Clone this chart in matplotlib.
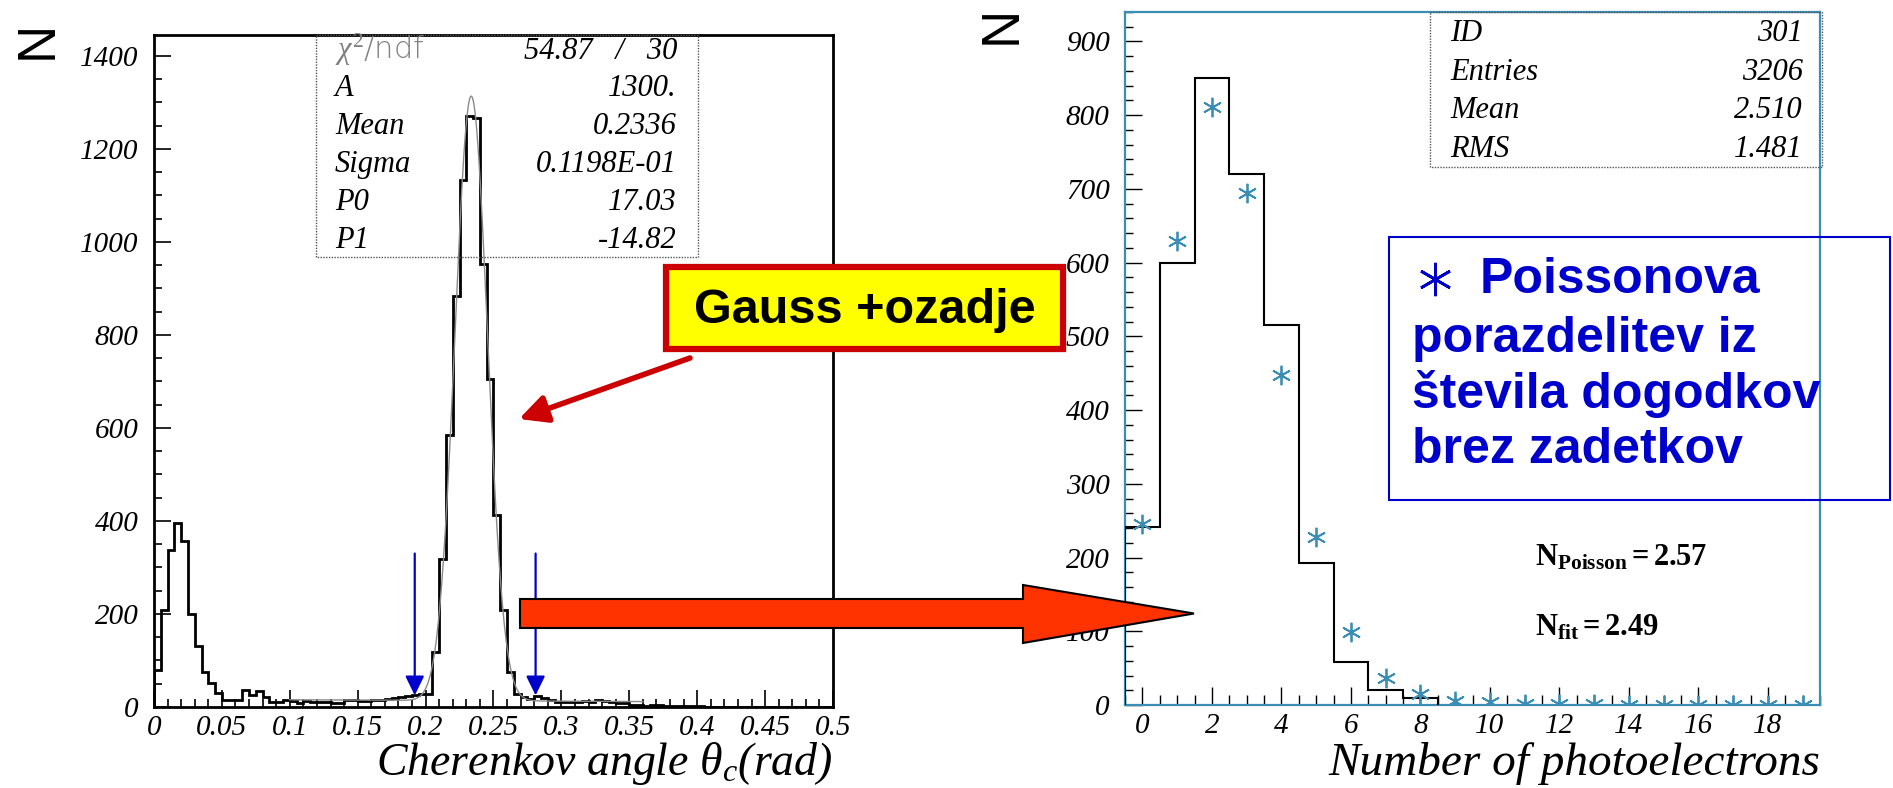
import numpy as np
import matplotlib
matplotlib.use("Agg")
import matplotlib.pyplot as plt
from matplotlib.patches import Rectangle, Polygon
from matplotlib.ticker import FixedLocator, MultipleLocator

# ---------------- data ----------------
theta_bin_width = 0.005
theta_counts = [79, 209, 338, 395, 356, 201, 131, 76, 52, 31,
                16, 16, 16, 36, 26, 35, 21, 10, 10, 15,
                13, 9, 13, 11, 11, 11, 9, 9, 14, 16,
                13, 13, 16, 16, 18, 20, 22, 23, 25, 29,
                27, 119, 318, 584, 883, 1133, 1270, 1267, 953, 706,
                412, 209, 75, 29, 21, 17, 24, 20, 16, 11,
                11, 11, 11, 13, 11, 15, 12, 10, 9, 8,
                5, 5, 3, 4, 4, 2, 2, 2, 2, 2,
                2, 1, 1, 1, 1, 1, 1, 1, 1, 1,
                1, 0, 0, 0, 0, 0, 0, 0, 0, 0]
fit_A, fit_mean, fit_sigma, fit_p0, fit_p1 = 1300.0, 0.2336, 0.1198e-01, 17.03, -14.82
fit_range = (0.10, 0.36)
cut_positions = [0.192, 0.281]
theta_xticks = [0, 0.05, 0.1, 0.15, 0.2, 0.25, 0.3, 0.35, 0.4, 0.45, 0.5]
theta_xticklabels = ["0", "0.05", "0.1", "0.15", "0.2", "0.25", "0.3", "0.35", "0.4", "0.45", "0.5"]
theta_yticks = [0, 200, 400, 600, 800, 1000, 1200, 1400]

npe_first_edge = -0.5
npe_counts = [242, 600, 850, 720, 516, 193, 59, 21, 9]
poisson_x = list(range(20))
poisson_values = [245, 630, 811, 694, 447, 228, 99, 37, 15, 6, 4, 2, 1, 1, 0, 0, 0, 0, 0, 0]
npe_xticks = [0, 2, 4, 6, 8, 10, 12, 14, 16, 18]
npe_yticks = [0, 100, 200, 300, 400, 500, 600, 700, 800, 900]

left_stats = [("A", "1300."), ("Mean", "0.2336"), ("Sigma", "0.1198E-01"),
              ("P0", "17.03"), ("P1", "-14.82")]
right_stats = [("ID", "301"), ("Entries", "3206"), ("Mean", "2.510"), ("RMS", "1.481")]

# ---------------- style ----------------
plt.rcParams["font.family"] = ["Liberation Serif", "DejaVu Serif"]
plt.rcParams["font.style"] = "italic"
plt.rcParams["mathtext.fontset"] = "custom"
plt.rcParams["mathtext.rm"] = "Liberation Serif:roman"
plt.rcParams["mathtext.it"] = "Liberation Serif:italic"
plt.rcParams["mathtext.bf"] = "Liberation Serif:bold:roman"

W, H = 1893, 788
fig = plt.figure(figsize=(W / 100, H / 100), dpi=100)


def rect(x0, y0, x1, y1):
    return [x0 / W, 1 - y1 / H, (x1 - x0) / W, (y1 - y0) / H]


TEAL = "#3a8db5"
BLUE = "#0000cc"
TICK_FS = 21

# ---------------- left panel ----------------
axL = fig.add_axes(rect(154, 35, 833, 707))
edges = np.arange(len(theta_counts) + 1) * theta_bin_width
axL.stairs(theta_counts, edges, color="black", lw=2.0, zorder=3)
xf = np.linspace(fit_range[0], fit_range[1], 600)
yf = fit_A * np.exp(-0.5 * ((xf - fit_mean) / fit_sigma) ** 2) + fit_p0 + fit_p1 * xf
axL.plot(xf, yf, color="#8a8a8a", lw=1.0, zorder=4)
axL.set_xlim(0, 0.5)
axL.set_ylim(0, 1445)
axL.xaxis.set_major_locator(FixedLocator(theta_xticks))
axL.set_xticklabels(theta_xticklabels)
axL.xaxis.set_minor_locator(MultipleLocator(0.01))
axL.yaxis.set_major_locator(FixedLocator(theta_yticks))
axL.yaxis.set_minor_locator(MultipleLocator(50))
axL.tick_params(which="both", direction="in", top=False, right=False, labelsize=TICK_FS, width=1.2)
axL.tick_params(axis="y", which="major", length=12, pad=11)
axL.tick_params(axis="y", which="minor", length=6)
axL.tick_params(axis="x", which="major", length=12, pad=6)
axL.tick_params(axis="x", which="minor", length=6)
for s in axL.spines.values():
    s.set_linewidth(2.0)
for xc in cut_positions:
    axL.annotate("", xy=(xc, 25), xytext=(xc, 330),
                 arrowprops=dict(arrowstyle="-|>,head_length=0.45,head_width=0.22",
                                 color=BLUE, lw=1.6, mutation_scale=26,
                                 shrinkA=0, shrinkB=0), zorder=6)

# ---------------- right panel ----------------
axR = fig.add_axes(rect(1125, 12, 1820, 705))
npe_edges = npe_first_edge + np.arange(len(npe_counts) + 1)
axR.stairs(npe_counts, npe_edges, color="black", lw=1.5, zorder=3)
axR.plot(poisson_x, poisson_values, linestyle="none", marker=(6, 2, 0),
         markersize=14, markeredgewidth=1.3, color=TEAL, zorder=4)
axR.set_xlim(-0.5, 19.5)
axR.set_ylim(0, 940)
axR.xaxis.set_major_locator(FixedLocator(npe_xticks))
axR.xaxis.set_minor_locator(MultipleLocator(0.5))
axR.yaxis.set_major_locator(FixedLocator(npe_yticks))
axR.yaxis.set_minor_locator(MultipleLocator(20))
axR.tick_params(which="both", direction="in", top=False, right=False, labelsize=TICK_FS, width=1.0)
axR.tick_params(axis="y", which="major", length=12, pad=11)
axR.tick_params(axis="y", which="minor", length=6)
axR.tick_params(axis="x", which="major", length=13, pad=6)
axR.tick_params(axis="x", which="minor", length=7)
for s in axR.spines.values():
    s.set_linewidth(1.6)
    s.set_color(TEAL)

# axis labels
fig.text(833 / W, 1 - 775 / H, r"Cherenkov angle θ$_{c}$(rad)", ha="right", va="baseline",
         fontsize=33, style="italic")
fig.text(1820 / W, 1 - 775 / H, "Number of photoelectrons", ha="right", va="baseline",
         fontsize=34, style="italic")
fig.text(38 / W, 1 - 40 / H, "N", rotation=90, ha="center", va="center",
         fontsize=38, family="Liberation Sans", style="normal")
fig.text(1002 / W, 1 - 25 / H, "N", rotation=90, ha="center", va="center",
         fontsize=38, family="Liberation Sans", style="normal")

# ---------------- overlay (annotations in pixel space) ----------------
ov = fig.add_axes([0, 0, 1, 1], facecolor="none")
ov.set_xlim(0, W)
ov.set_ylim(H, 0)
ov.axis("off")

STAT_FS = 22
# left stats box
ov.add_patch(Rectangle((316, 35), 382, 222, fill=False, ec="#555555", lw=1.0, ls=(0, (1, 1))))
ov.text(335, 59, r"$\chi^2$/ndf", fontsize=STAT_FS, color="#808080", family="DejaVu Sans",
        style="normal", weight="light", va="baseline")
ov.text(677, 59, "54.87   /   30", fontsize=STAT_FS, ha="right", va="baseline")
for i, (k, v) in enumerate(left_stats):
    yb = 96 + 38 * i
    ov.text(335, yb, k, fontsize=STAT_FS, va="baseline")
    ov.text(677, yb, v, fontsize=STAT_FS, ha="right", va="baseline")

# right stats box
ov.add_patch(Rectangle((1430, 12), 392, 155, fill=False, ec="#555555", lw=1.0, ls=(0, (1, 1))))
for i, (k, v) in enumerate(right_stats):
    yb = 41 + 38.7 * i
    ov.text(1450, yb, k, fontsize=STAT_FS, va="baseline")
    ov.text(1803, yb, v, fontsize=STAT_FS, ha="right", va="baseline")

# N texts
ov.text(1535, 565, r"$\mathbf{N_{Poisson}=2.57}$", fontsize=22, va="baseline", style="normal")
ov.text(1535, 635, r"$\mathbf{N_{fit}=2.49}$", fontsize=22, va="baseline", style="normal")

# Gauss box
ov.add_patch(Rectangle((666, 267), 397, 82, fc="#ffff00", ec="#cc0000", lw=4.5, zorder=5))
ov.text(864.5, 310, "Gauss +ozadje", fontsize=35, family="Liberation Sans", style="normal",
        weight="bold", ha="center", va="center", zorder=6)
ov.annotate("", xy=(519, 419), xytext=(690, 358),
            arrowprops=dict(arrowstyle="-|>,head_length=0.7,head_width=0.35",
                            color="#cc0000", lw=4, mutation_scale=24,
                            shrinkA=0, shrinkB=0), zorder=6)

# big red arrow
ov.add_patch(Polygon([(520, 599), (1023, 599), (1023, 585), (1194, 613.5),
                      (1023, 643), (1023, 628), (520, 628)],
                     closed=True, fc="#ff3300", ec="black", lw=1.5, zorder=5))

# blue explanation box
ov.add_patch(Rectangle((1389, 237), 501, 263, fill=False, ec=BLUE, lw=1.5, zorder=5))
ov.plot([1435], [279], marker=(6, 2, 0), markersize=24, markeredgewidth=2.0,
        color=BLUE, linestyle="none", zorder=6)
ov.text(1480, 293, "Poissonova", fontsize=36, family="Liberation Sans", style="normal",
        weight="bold", color=BLUE, va="baseline", zorder=6)
for txt, yb in [("porazdelitev iz", 352), ("števila dogodkov", 408), ("brez zadetkov", 463)]:
    ov.text(1412, yb, txt, fontsize=36, family="Liberation Sans", style="normal",
            weight="bold", color=BLUE, va="baseline", zorder=6)

fig.savefig("out.png", dpi=100)
